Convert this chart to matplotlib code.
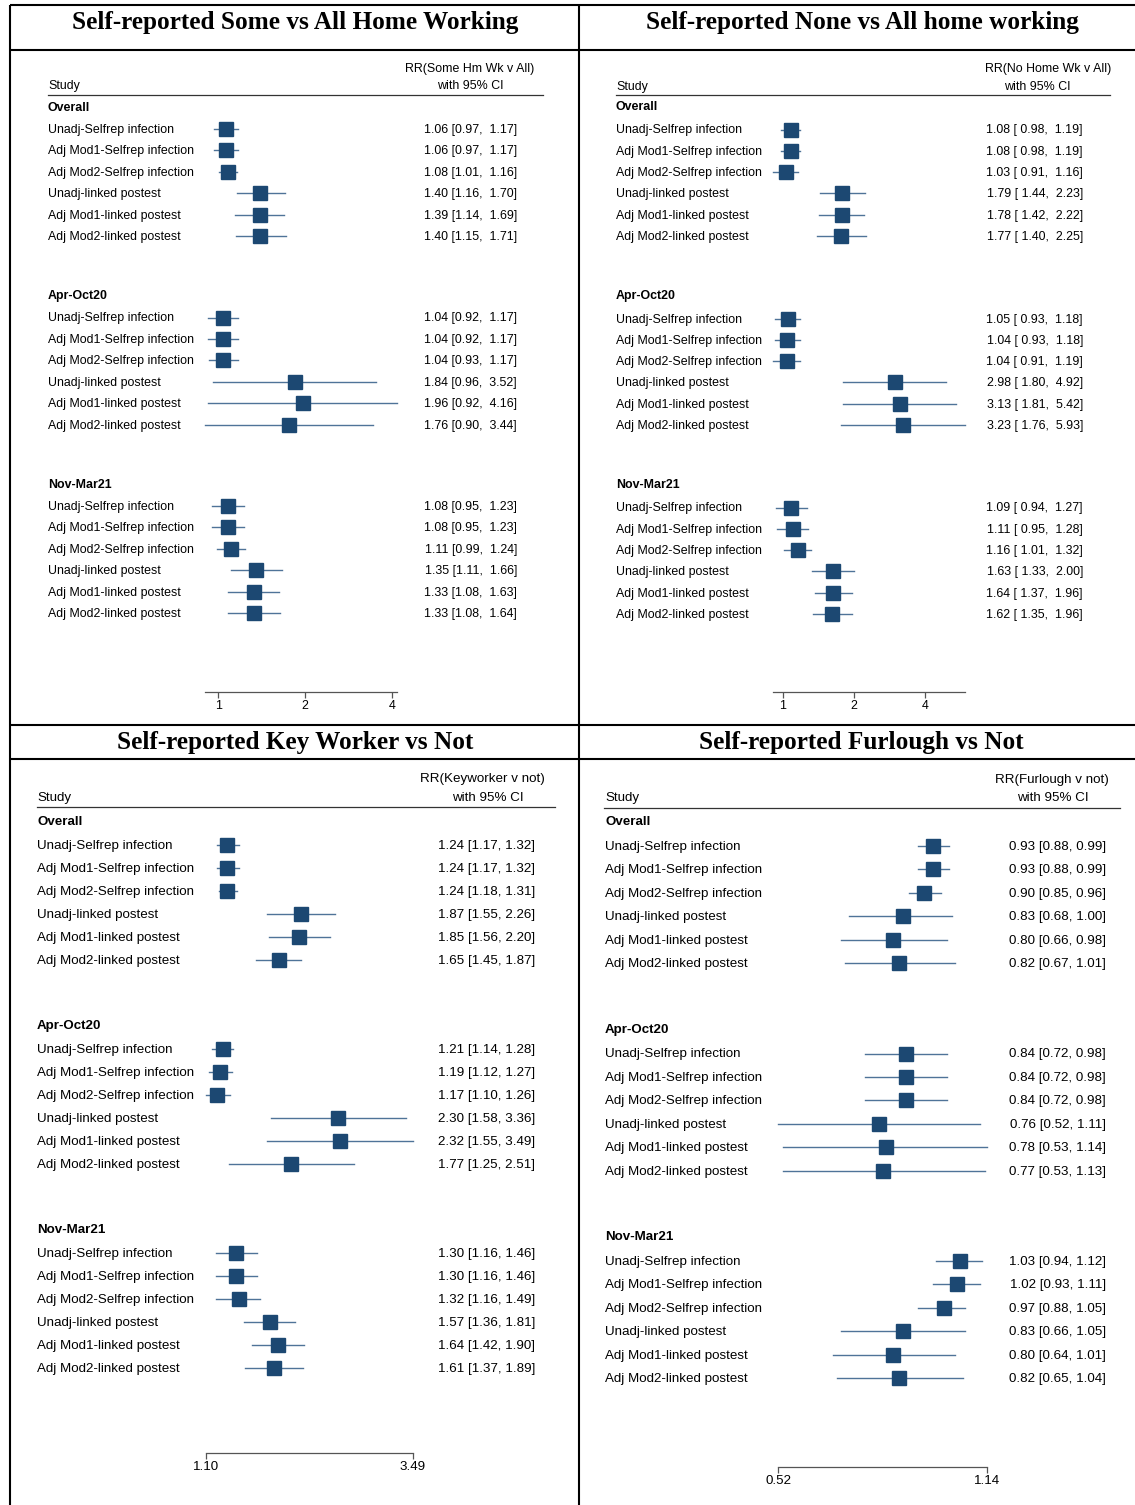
import matplotlib
matplotlib.use('Agg')
import matplotlib.pyplot as plt

# ---------------- data ----------------
groups = ["Overall", "Apr-Oct20", "Nov-Mar21"]
row_labels = ["Unadj-Selfrep infection", "Adj Mod1-Selfrep infection", "Adj Mod2-Selfrep infection",
              "Unadj-linked postest", "Adj Mod1-linked postest", "Adj Mod2-linked postest"]

some_rr = [1.06, 1.06, 1.08, 1.40, 1.39, 1.40,
           1.04, 1.04, 1.04, 1.84, 1.96, 1.76,
           1.08, 1.08, 1.11, 1.35, 1.33, 1.33]
some_lo = [0.97, 0.97, 1.01, 1.16, 1.14, 1.15,
           0.92, 0.92, 0.93, 0.96, 0.92, 0.90,
           0.95, 0.95, 0.99, 1.11, 1.08, 1.08]
some_hi = [1.17, 1.17, 1.16, 1.70, 1.69, 1.71,
           1.17, 1.17, 1.17, 3.52, 4.16, 3.44,
           1.23, 1.23, 1.24, 1.66, 1.63, 1.64]

none_rr = [1.08, 1.08, 1.03, 1.79, 1.78, 1.77,
           1.05, 1.04, 1.04, 2.98, 3.13, 3.23,
           1.09, 1.11, 1.16, 1.63, 1.64, 1.62]
none_lo = [0.98, 0.98, 0.91, 1.44, 1.42, 1.40,
           0.93, 0.93, 0.91, 1.80, 1.81, 1.76,
           0.94, 0.95, 1.01, 1.33, 1.37, 1.35]
none_hi = [1.19, 1.19, 1.16, 2.23, 2.22, 2.25,
           1.18, 1.18, 1.19, 4.92, 5.42, 5.93,
           1.27, 1.28, 1.32, 2.00, 1.96, 1.96]

key_rr = [1.24, 1.24, 1.24, 1.87, 1.85, 1.65,
          1.21, 1.19, 1.17, 2.30, 2.32, 1.77,
          1.30, 1.30, 1.32, 1.57, 1.64, 1.61]
key_lo = [1.17, 1.17, 1.18, 1.55, 1.56, 1.45,
          1.14, 1.12, 1.10, 1.58, 1.55, 1.25,
          1.16, 1.16, 1.16, 1.36, 1.42, 1.37]
key_hi = [1.32, 1.32, 1.31, 2.26, 2.20, 1.87,
          1.28, 1.27, 1.26, 3.36, 3.49, 2.51,
          1.46, 1.46, 1.49, 1.81, 1.90, 1.89]

furl_rr = [0.93, 0.93, 0.90, 0.83, 0.80, 0.82,
           0.84, 0.84, 0.84, 0.76, 0.78, 0.77,
           1.03, 1.02, 0.97, 0.83, 0.80, 0.82]
furl_lo = [0.88, 0.88, 0.85, 0.68, 0.66, 0.67,
           0.72, 0.72, 0.72, 0.52, 0.53, 0.53,
           0.94, 0.93, 0.88, 0.66, 0.64, 0.65]
furl_hi = [0.99, 0.99, 0.96, 1.00, 0.98, 1.01,
           0.98, 0.98, 0.98, 1.11, 1.14, 1.13,
           1.12, 1.11, 1.05, 1.05, 1.01, 1.04]

titles = ["Self-reported Some vs All Home Working", "Self-reported None vs All home working",
          "Self-reported Key Worker vs Not", "Self-reported Furlough vs Not"]
rr_headers = ["RR(Some Hm Wk v All)", "RR(No Home Wk v All)", "RR(Keyworker v not)", "RR(Furlough v not)"]
tl_ticks = [1, 2, 4]
tr_ticks = [1, 2, 4]
bl_ticks = [1.10, 3.49]
br_ticks = [0.52, 1.14]

# ---------------- layout ----------------
W, H = 1135, 1505
SANS = ['Liberation Sans', 'DejaVu Sans']
SERIF = ['Liberation Serif', 'DejaVu Serif']
SQ = '#1c4872'
LN = '#4f7398'

fig = plt.figure(figsize=(W / 100, H / 100), dpi=100)
bg = fig.add_axes([0, 0, 1, 1])
bg.set_xlim(0, W)
bg.set_ylim(H, 0)
bg.axis('off')

# frame lines
fl = dict(color='black', lw=1.5, solid_capstyle='butt')
bg.plot([10, W], [5, 5], **fl)
bg.plot([10, W], [50, 50], **fl)
bg.plot([10, W], [725, 725], **fl)
bg.plot([10, W], [759, 759], **fl)
bg.plot([10, 10], [5, H], **fl)
bg.plot([579, 579], [5, H], **fl)

panels = [
    dict(title=titles[0], tx=295, ty=23, rr=some_rr, lo=some_lo, hi=some_hi, hdr=rr_headers[0],
         lab_x=48, val_x=517, hdr_x=470, with_x=470, hdr_y=69, study_y=86, line_y=95, line_x=(48, 543),
         g0=108, off=21, sp=21.4, step=188.5, ax_x=(205, 397), ax_y=692, ticks=tl_ticks,
         fs=8.9, fmt="{:.2f} [{:.2f},  {:.2f}]", ms=10),
    dict(title=titles[1], tx=862, ty=23, rr=none_rr, lo=none_lo, hi=none_hi, hdr=rr_headers[1],
         lab_x=616, val_x=1083, hdr_x=1048, with_x=1037, hdr_y=69, study_y=87, line_y=95, line_x=(616, 1110),
         g0=107, off=22.5, sp=21.3, step=189, ax_x=(773, 965), ax_y=692, ticks=tr_ticks,
         fs=8.9, fmt="{:.2f} [ {:.2f},  {:.2f}]", ms=10),
    dict(title=titles[2], tx=295, ty=743, rr=key_rr, lo=key_lo, hi=key_hi, hdr=rr_headers[2],
         lab_x=37, val_x=535, hdr_x=482, with_x=488, hdr_y=779, study_y=798, line_y=807, line_x=(37, 555),
         g0=822, off=23, sp=23.0, step=204, ax_x=(206, 413), ax_y=1453, ticks=bl_ticks,
         fs=9.6, fmt="{:.2f} [{:.2f}, {:.2f}]", ms=10.5),
    dict(title=titles[3], tx=861, ty=743, rr=furl_rr, lo=furl_lo, hi=furl_hi, hdr=rr_headers[3],
         lab_x=605, val_x=1106, hdr_x=1052, with_x=1053, hdr_y=780, study_y=798, line_y=808, line_x=(604, 1120),
         g0=822, off=24, sp=23.4, step=207.5, ax_x=(778, 987), ax_y=1467, ticks=br_ticks,
         fs=9.6, fmt="{:.2f} [{:.2f}, {:.2f}]", ms=10.5),
]

for p in panels:
    fs = p['fs']
    bg.text(p['tx'], p['ty'], p['title'], family=SERIF, fontweight='bold', fontsize=18.2,
            ha='center', va='center')
    bg.text(p['hdr_x'], p['hdr_y'], p['hdr'], family=SANS, fontsize=fs, ha='center', va='center')
    bg.text(p['with_x'], p['study_y'], "with 95% CI", family=SANS, fontsize=fs, ha='center', va='center')
    bg.text(p['lab_x'], p['study_y'], "Study", family=SANS, fontsize=fs, ha='left', va='center')
    bg.plot(p['line_x'], [p['line_y'], p['line_y']], color='#333333', lw=0.9)

    x0, x1 = p['ax_x']
    ytop = p['line_y'] + 2
    yb = p['ax_y']
    ax = fig.add_axes([x0 / W, 1 - yb / H, (x1 - x0) / W, (yb - ytop) / H])
    ax.set_xscale('log')
    ax.set_xlim(min(p['lo']), max(p['hi']))
    ax.set_ylim(yb, ytop)
    ax.patch.set_alpha(0)
    for s in ['top', 'left', 'right']:
        ax.spines[s].set_visible(False)
    ax.spines['bottom'].set_color('#555555')
    ax.spines['bottom'].set_linewidth(0.9)
    ax.set_yticks([])
    ax.set_xticks(p['ticks'])
    ax.set_xticklabels(["{:g}".format(t) if p['ticks'][0] == 1 else "{:.2f}".format(t) for t in p['ticks']],
                       family=SANS, fontsize=fs)
    ax.minorticks_off()
    ax.tick_params(axis='x', direction='out', length=4, width=0.9, color='#555555', pad=1.5)

    for g, gname in enumerate(groups):
        gy = p['g0'] + g * p['step']
        bg.text(p['lab_x'], gy, gname, family=SANS, fontsize=fs, fontweight='bold', ha='left', va='center')
        for i, lab in enumerate(row_labels):
            k = g * 6 + i
            y = gy + p['off'] + i * p['sp']
            bg.text(p['lab_x'], y + 1, lab, family=SANS, fontsize=fs, ha='left', va='center')
            bg.text(p['val_x'], y + 1, p['fmt'].format(p['rr'][k], p['lo'][k], p['hi'][k]),
                    family=SANS, fontsize=fs, ha='right', va='center')
            ax.plot([p['lo'][k], p['hi'][k]], [y, y], color=LN, lw=1.0, clip_on=False, zorder=2)
            ax.plot([p['rr'][k]], [y], marker='s', ms=p['ms'], color=SQ, mec=SQ, clip_on=False, zorder=3)

fig.savefig('out.png', dpi=100)
